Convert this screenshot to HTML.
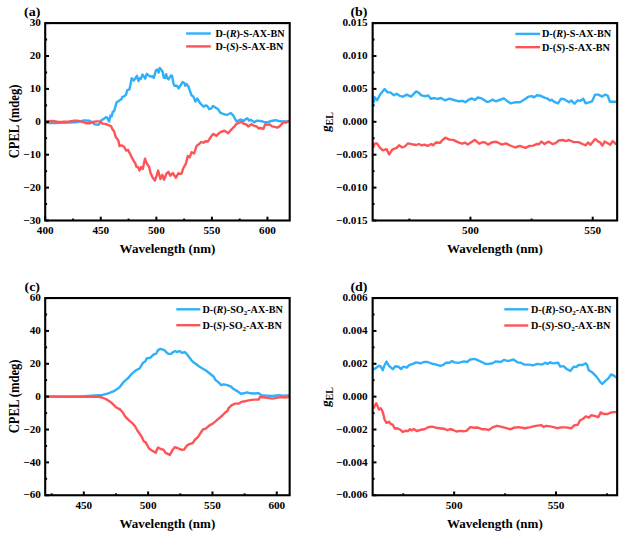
<!DOCTYPE html>
<html><head><meta charset="utf-8"><style>
html,body{margin:0;padding:0;background:#fff;}
body{width:632px;height:542px;overflow:hidden;}
svg{display:block;}
text{font-family:"Liberation Serif",serif;font-weight:bold;fill:#000;}
.tk{font-size:11.2px;}
.ti{font-size:13px;}
.lg{font-size:10.2px;}
.pl{font-size:14px;}
</style></head><body>
<svg width="632" height="542" viewBox="0 0 632 542">
<rect width="632" height="542" fill="#fff"/>
<polyline points="46.0,122.8 50.3,123.1 56.7,123.1 62.0,122.8 68.0,122.5 75.6,122.4 80.0,121.3 83.8,120.4 89.5,120.8 92.7,122.7 94.6,124.2 98.4,124.9 100.3,122.7 101.5,120.1 103.2,119.2 106.1,117.2 107.0,117.4 109.2,121.6 110.5,115.4 111.8,116.3 112.7,111.9 114.0,111.4 116.7,102.1 118.5,101.2 120.2,99.9 121.5,99.0 122.4,96.8 124.2,96.4 126.0,94.6 127.3,90.2 129.5,89.3 131.7,78.2 133.7,80.6 134.9,79.0 136.9,75.8 138.4,81.0 139.6,78.2 140.8,79.0 142.4,74.6 144.0,76.6 145.2,78.6 146.8,73.8 148.7,75.4 150.3,76.6 152.3,76.2 153.9,77.8 155.9,70.3 157.4,69.5 158.6,72.7 159.8,67.9 161.4,69.9 162.6,71.9 163.8,77.8 165.0,77.8 166.1,74.2 167.3,78.2 168.5,79.4 170.9,75.4 172.1,75.8 173.3,82.9 174.4,85.8 177.0,85.8 178.6,88.4 182.7,82.0 184.6,83.3 185.2,85.8 186.5,83.9 188.4,86.5 191.5,95.3 193.4,96.6 195.3,101.6 197.2,98.5 200.4,103.5 203.5,106.7 205.4,105.4 207.3,106.0 209.2,109.2 211.1,108.6 213.0,106.0 216.2,108.0 218.1,109.2 220.0,112.4 222.5,113.7 226.3,114.9 228.2,114.3 230.8,113.0 233.3,115.6 236.5,121.3 238.4,120.6 240.0,119.8 241.6,119.8 243.7,121.0 245.3,119.4 247.4,118.2 249.1,120.6 250.7,119.8 252.3,121.0 254.4,122.3 256.5,120.6 260.6,121.0 263.9,121.9 267.2,122.3 271.3,121.0 275.4,120.2 278.7,121.0 282.8,121.5 288.5,121.5" fill="none" stroke="#30b0fa" stroke-width="2.4" stroke-linejoin="round" stroke-linecap="round"/>
<polyline points="46.0,121.6 49.1,121.3 53.5,121.0 57.9,121.9 63.0,121.8 69.3,121.5 74.4,120.8 78.2,120.8 81.0,121.6 83.2,122.0 86.3,123.3 90.1,123.3 92.7,122.0 96.5,121.4 99.6,121.4 100.9,122.7 102.8,123.6 105.3,123.9 108.5,125.2 111.0,126.1 112.3,129.0 114.2,131.5 115.7,137.0 118.3,140.2 119.5,146.0 121.5,145.4 124.1,146.7 126.0,150.5 128.0,149.9 130.0,153.6 132.0,157.9 133.6,160.7 135.5,163.8 136.3,166.6 137.9,167.0 139.5,170.6 141.1,167.0 142.7,169.0 143.8,164.2 145.0,158.7 146.2,161.9 147.4,164.6 149.0,166.6 150.6,172.9 152.5,177.3 154.9,180.5 156.5,176.1 158.1,170.6 160.5,178.9 162.4,174.9 164.0,179.7 166.4,173.7 168.4,171.8 170.3,175.7 172.7,173.0 175.9,177.7 178.3,173.3 178.9,173.7 181.5,173.7 183.4,168.0 185.9,163.6 187.8,156.0 189.7,157.3 191.6,152.2 194.1,153.5 196.6,145.9 199.2,144.0 201.1,142.1 203.6,142.7 205.5,141.2 208.0,141.5 209.9,138.3 213.1,133.9 216.3,135.8 218.2,133.9 220.7,132.0 224.5,130.7 228.3,133.2 230.8,130.1 234.0,126.9 236.5,123.8 240.0,122.3 241.6,121.9 243.3,123.5 246.2,124.3 248.2,126.4 251.5,124.3 254.4,126.0 256.5,126.4 258.9,128.5 260.6,128.0 263.5,128.9 265.1,124.3 268.0,124.8 269.6,124.3 272.1,126.4 274.6,126.8 277.4,127.6 279.5,126.4 282.0,123.9 284.0,121.9 285.7,122.7 288.5,121.0" fill="none" stroke="#ff5457" stroke-width="2.4" stroke-linejoin="round" stroke-linecap="round"/>
<polyline points="373.8,102.2 374.4,97.1 377.0,100.3 380.1,94.6 384.6,89.1 387.7,92.4 390.3,92.4 394.0,95.2 396.6,93.7 399.7,95.8 402.9,96.7 406.7,94.6 411.1,96.7 416.2,91.4 418.7,92.7 421.3,95.4 425.7,96.2 428.2,95.4 430.8,98.7 434.6,98.0 437.1,99.0 440.9,98.0 445.0,100.3 449.4,98.7 453.9,100.0 458.9,101.3 462.7,100.9 465.3,102.2 469.0,99.6 471.6,98.4 474.7,100.0 477.9,97.5 481.7,98.4 486.8,101.8 489.3,101.5 492.5,99.6 495.6,101.3 499.4,100.0 503.9,98.4 507.0,100.9 510.8,103.4 515.9,102.2 520.0,102.2 524.0,99.8 528.7,96.6 531.9,96.1 534.2,97.4 536.6,95.3 540.6,95.8 544.5,97.7 547.7,98.7 550.1,100.6 551.6,99.8 554.8,102.2 558.0,103.4 561.1,98.7 564.3,99.3 569.0,102.2 571.4,100.6 574.6,103.7 577.8,100.3 580.1,100.9 583.3,98.7 585.7,103.4 589.6,102.2 592.0,101.4 595.2,94.6 598.3,94.6 602.3,96.6 605.4,94.6 607.8,95.8 609.9,101.8 616.0,101.8" fill="none" stroke="#30b0fa" stroke-width="2.4" stroke-linejoin="round" stroke-linecap="round"/>
<polyline points="373.8,146.5 374.4,143.7 377.0,143.4 379.5,147.2 382.7,150.3 386.5,149.1 389.2,154.4 392.2,149.7 396.6,147.8 399.1,145.3 402.3,147.5 404.8,146.5 408.0,143.4 411.8,144.2 416.2,145.0 418.7,144.0 421.9,145.3 424.4,144.6 427.6,145.9 431.4,144.0 433.3,145.3 435.8,142.5 440.3,142.7 442.2,140.2 445.3,137.7 449.4,139.6 453.2,139.9 457.7,142.1 462.1,143.7 465.3,142.7 467.8,144.6 471.6,142.1 474.7,139.9 479.2,143.7 483.0,142.1 485.5,142.7 488.0,144.6 492.5,142.1 496.3,141.7 502.0,144.6 505.8,143.4 510.2,145.5 515.3,147.5 519.7,145.9 525.5,147.9 529.5,145.9 533.4,145.6 536.6,144.0 539.0,144.3 541.4,141.6 544.5,144.0 548.5,141.6 552.4,144.0 555.6,143.2 558.8,140.5 562.7,140.0 565.9,141.1 569.0,140.0 573.8,142.1 578.5,142.1 582.5,144.0 585.7,145.3 588.0,142.4 590.4,144.8 595.2,138.9 598.3,141.6 599.9,142.1 602.3,145.6 604.7,141.6 607.8,143.2 610.2,144.8 612.6,141.1 616.0,144.0" fill="none" stroke="#ff5457" stroke-width="2.4" stroke-linejoin="round" stroke-linecap="round"/>
<polyline points="45.5,396.6 70.3,396.6 84.0,396.1 92.0,395.6 98.2,395.2 102.6,394.9 108.3,393.3 113.4,391.4 118.4,388.2 120.0,386.8 123.8,381.8 127.6,378.6 131.4,374.2 135.8,370.4 139.6,368.5 142.2,364.0 143.4,362.5 145.3,361.5 146.6,358.4 150.4,357.7 153.5,354.6 156.1,353.7 158.0,350.1 160.5,348.9 164.3,350.1 166.8,352.7 168.7,353.9 171.3,353.7 173.2,352.0 175.1,351.1 177.0,352.0 179.5,351.1 182.0,352.7 185.2,352.3 187.1,354.6 189.0,357.1 191.5,360.3 194.1,362.8 195.0,363.3 198.8,366.3 202.5,368.5 206.3,370.8 210.0,373.8 213.8,376.8 215.3,379.8 218.3,382.1 221.3,385.1 223.6,384.3 227.3,385.1 231.1,386.6 233.3,388.8 237.1,391.1 240.9,393.8 243.9,393.3 246.9,392.3 250.6,393.3 254.0,393.5 258.6,393.1 261.3,395.3 266.6,395.6 272.6,396.0 278.6,395.3 283.2,395.6 288.5,395.5" fill="none" stroke="#30b0fa" stroke-width="2.4" stroke-linejoin="round" stroke-linecap="round"/>
<polyline points="45.5,396.5 70.3,396.7 98.2,396.7 102.0,397.5 105.8,399.0 110.8,402.2 115.9,407.2 120.0,409.4 122.5,412.0 125.1,416.4 128.9,420.4 132.7,423.4 135.2,426.5 137.7,431.0 140.0,434.3 141.9,437.1 143.8,441.4 145.7,442.3 149.0,448.5 151.9,450.4 155.7,452.8 158.0,447.6 160.9,449.0 163.7,449.9 165.6,452.8 169.9,454.9 172.3,450.4 174.7,447.1 177.5,448.0 181.8,449.9 184.2,449.5 186.5,446.1 189.4,444.1 192.7,443.1 195.1,439.5 197.9,437.1 200.0,433.8 202.7,429.7 205.7,428.6 209.2,425.6 213.4,423.2 217.5,419.7 222.3,415.5 225.2,412.5 227.6,410.8 228.8,407.8 231.8,405.2 235.3,403.6 238.9,403.6 241.3,401.9 244.8,401.3 249.6,400.1 254.0,399.6 258.6,399.6 260.0,397.0 263.3,397.3 272.6,398.6 277.9,397.6 281.9,397.0 284.6,397.6 288.5,397.0" fill="none" stroke="#ff5457" stroke-width="2.4" stroke-linejoin="round" stroke-linecap="round"/>
<polyline points="373.8,369.2 376.3,367.7 378.9,365.8 380.8,366.5 382.7,370.3 384.6,365.2 386.5,361.6 389.0,365.8 392.8,369.2 395.3,366.2 398.5,366.7 401.0,369.0 403.5,366.7 406.7,367.5 409.2,365.2 413.0,363.9 416.2,362.4 420.6,363.3 423.8,362.0 427.6,362.0 432.0,363.7 436.5,364.6 440.3,365.8 443.4,364.9 445.9,362.7 449.4,362.7 452.0,361.1 454.5,362.4 458.3,362.9 464.0,361.4 467.2,362.0 470.3,359.5 474.7,358.9 479.2,360.8 481.7,362.0 485.5,363.9 488.7,363.9 492.5,363.3 495.6,361.4 500.7,362.0 503.9,359.9 508.3,361.1 513.4,359.5 517.8,362.4 520.9,362.7 524.0,364.6 529.5,364.6 532.7,365.3 537.4,363.9 542.2,364.6 545.3,362.7 547.7,363.9 550.1,362.3 553.2,363.4 558.0,362.7 560.3,366.6 563.5,366.1 566.7,369.0 570.3,370.9 573.8,366.6 576.2,367.1 578.5,365.0 582.5,365.0 585.7,363.4 587.2,365.0 588.8,370.3 592.0,372.2 596.7,376.9 599.9,381.6 602.3,384.0 605.4,380.9 608.6,378.2 611.0,374.5 613.4,375.3 616.0,377.2" fill="none" stroke="#30b0fa" stroke-width="2.4" stroke-linejoin="round" stroke-linecap="round"/>
<polyline points="373.8,407.7 375.1,405.1 376.3,403.2 377.6,406.4 378.9,409.6 380.8,408.3 382.0,410.2 383.3,414.0 384.6,419.7 386.5,422.8 389.0,421.8 390.9,424.1 392.8,424.7 394.7,428.5 397.2,428.2 400.4,429.8 402.9,432.0 405.4,430.7 408.0,431.1 409.9,429.2 411.8,430.4 413.7,428.9 416.8,431.1 420.6,429.8 424.4,429.2 428.2,427.3 432.0,426.6 435.8,427.7 439.6,428.2 445.0,429.0 447.5,430.3 450.1,429.0 453.2,430.0 456.4,431.5 460.2,430.9 463.4,431.3 466.5,430.9 470.3,427.1 474.1,427.7 477.9,427.5 481.7,429.2 485.5,429.2 488.7,430.0 493.1,427.1 496.9,425.8 500.7,426.7 504.5,427.7 508.3,428.7 510.8,429.2 514.0,427.7 518.4,427.1 524.7,428.2 529.5,427.4 535.8,425.9 541.4,425.1 543.7,427.0 546.1,425.9 551.6,426.6 557.2,428.2 561.1,427.4 565.9,427.4 571.4,428.2 574.6,425.1 577.8,424.7 580.1,420.3 583.3,418.7 585.7,416.4 588.8,417.5 591.2,415.3 594.4,415.9 598.3,417.2 600.7,412.4 603.9,414.0 607.8,414.0 610.2,412.7 613.4,412.1 616.0,412.1" fill="none" stroke="#ff5457" stroke-width="2.4" stroke-linejoin="round" stroke-linecap="round"/>
<line x1="45.20" y1="220.50" x2="45.20" y2="216.70" stroke="#000" stroke-width="2.0"/>
<text x="45.20" y="233.90" text-anchor="middle" class="tk">400</text>
<line x1="100.77" y1="220.50" x2="100.77" y2="216.70" stroke="#000" stroke-width="2.0"/>
<text x="100.77" y="233.90" text-anchor="middle" class="tk">450</text>
<line x1="156.34" y1="220.50" x2="156.34" y2="216.70" stroke="#000" stroke-width="2.0"/>
<text x="156.34" y="233.90" text-anchor="middle" class="tk">500</text>
<line x1="211.90" y1="220.50" x2="211.90" y2="216.70" stroke="#000" stroke-width="2.0"/>
<text x="211.90" y="233.90" text-anchor="middle" class="tk">550</text>
<line x1="267.47" y1="220.50" x2="267.47" y2="216.70" stroke="#000" stroke-width="2.0"/>
<text x="267.47" y="233.90" text-anchor="middle" class="tk">600</text>
<line x1="72.98" y1="220.50" x2="72.98" y2="218.60" stroke="#000" stroke-width="2.0"/>
<line x1="128.55" y1="220.50" x2="128.55" y2="218.60" stroke="#000" stroke-width="2.0"/>
<line x1="184.12" y1="220.50" x2="184.12" y2="218.60" stroke="#000" stroke-width="2.0"/>
<line x1="239.69" y1="220.50" x2="239.69" y2="218.60" stroke="#000" stroke-width="2.0"/>
<line x1="45.20" y1="220.50" x2="49.00" y2="220.50" stroke="#000" stroke-width="2.0"/>
<text x="40.90" y="223.70" text-anchor="end" class="tk">−30</text>
<line x1="45.20" y1="187.60" x2="49.00" y2="187.60" stroke="#000" stroke-width="2.0"/>
<text x="40.90" y="190.80" text-anchor="end" class="tk">−20</text>
<line x1="45.20" y1="154.70" x2="49.00" y2="154.70" stroke="#000" stroke-width="2.0"/>
<text x="40.90" y="157.90" text-anchor="end" class="tk">−10</text>
<line x1="45.20" y1="121.80" x2="49.00" y2="121.80" stroke="#000" stroke-width="2.0"/>
<text x="40.90" y="125.00" text-anchor="end" class="tk">0</text>
<line x1="45.20" y1="88.90" x2="49.00" y2="88.90" stroke="#000" stroke-width="2.0"/>
<text x="40.90" y="92.10" text-anchor="end" class="tk">10</text>
<line x1="45.20" y1="56.00" x2="49.00" y2="56.00" stroke="#000" stroke-width="2.0"/>
<text x="40.90" y="59.20" text-anchor="end" class="tk">20</text>
<line x1="45.20" y1="23.10" x2="49.00" y2="23.10" stroke="#000" stroke-width="2.0"/>
<text x="40.90" y="26.30" text-anchor="end" class="tk">30</text>
<line x1="45.20" y1="204.05" x2="47.10" y2="204.05" stroke="#000" stroke-width="2.0"/>
<line x1="45.20" y1="171.15" x2="47.10" y2="171.15" stroke="#000" stroke-width="2.0"/>
<line x1="45.20" y1="138.25" x2="47.10" y2="138.25" stroke="#000" stroke-width="2.0"/>
<line x1="45.20" y1="105.35" x2="47.10" y2="105.35" stroke="#000" stroke-width="2.0"/>
<line x1="45.20" y1="72.45" x2="47.10" y2="72.45" stroke="#000" stroke-width="2.0"/>
<line x1="45.20" y1="39.55" x2="47.10" y2="39.55" stroke="#000" stroke-width="2.0"/>
<line x1="470.45" y1="220.50" x2="470.45" y2="216.70" stroke="#000" stroke-width="2.0"/>
<text x="470.45" y="233.90" text-anchor="middle" class="tk">500</text>
<line x1="592.70" y1="220.50" x2="592.70" y2="216.70" stroke="#000" stroke-width="2.0"/>
<text x="592.70" y="233.90" text-anchor="middle" class="tk">550</text>
<line x1="409.32" y1="220.50" x2="409.32" y2="218.60" stroke="#000" stroke-width="2.0"/>
<line x1="531.58" y1="220.50" x2="531.58" y2="218.60" stroke="#000" stroke-width="2.0"/>
<line x1="372.65" y1="220.50" x2="376.45" y2="220.50" stroke="#000" stroke-width="2.0"/>
<text x="367.60" y="223.70" text-anchor="end" class="tk">−0.015</text>
<line x1="372.65" y1="187.60" x2="376.45" y2="187.60" stroke="#000" stroke-width="2.0"/>
<text x="367.60" y="190.80" text-anchor="end" class="tk">−0.010</text>
<line x1="372.65" y1="154.70" x2="376.45" y2="154.70" stroke="#000" stroke-width="2.0"/>
<text x="367.60" y="157.90" text-anchor="end" class="tk">−0.005</text>
<line x1="372.65" y1="121.80" x2="376.45" y2="121.80" stroke="#000" stroke-width="2.0"/>
<text x="367.60" y="125.00" text-anchor="end" class="tk">0.000</text>
<line x1="372.65" y1="88.90" x2="376.45" y2="88.90" stroke="#000" stroke-width="2.0"/>
<text x="367.60" y="92.10" text-anchor="end" class="tk">0.005</text>
<line x1="372.65" y1="56.00" x2="376.45" y2="56.00" stroke="#000" stroke-width="2.0"/>
<text x="367.60" y="59.20" text-anchor="end" class="tk">0.010</text>
<line x1="372.65" y1="23.10" x2="376.45" y2="23.10" stroke="#000" stroke-width="2.0"/>
<text x="367.60" y="26.30" text-anchor="end" class="tk">0.015</text>
<line x1="372.65" y1="204.05" x2="374.55" y2="204.05" stroke="#000" stroke-width="2.0"/>
<line x1="372.65" y1="171.15" x2="374.55" y2="171.15" stroke="#000" stroke-width="2.0"/>
<line x1="372.65" y1="138.25" x2="374.55" y2="138.25" stroke="#000" stroke-width="2.0"/>
<line x1="372.65" y1="105.35" x2="374.55" y2="105.35" stroke="#000" stroke-width="2.0"/>
<line x1="372.65" y1="72.45" x2="374.55" y2="72.45" stroke="#000" stroke-width="2.0"/>
<line x1="372.65" y1="39.55" x2="374.55" y2="39.55" stroke="#000" stroke-width="2.0"/>
<line x1="83.80" y1="495.25" x2="83.80" y2="491.45" stroke="#000" stroke-width="2.0"/>
<text x="83.80" y="508.90" text-anchor="middle" class="tk">450</text>
<line x1="148.13" y1="495.25" x2="148.13" y2="491.45" stroke="#000" stroke-width="2.0"/>
<text x="148.13" y="508.90" text-anchor="middle" class="tk">500</text>
<line x1="212.46" y1="495.25" x2="212.46" y2="491.45" stroke="#000" stroke-width="2.0"/>
<text x="212.46" y="508.90" text-anchor="middle" class="tk">550</text>
<line x1="276.78" y1="495.25" x2="276.78" y2="491.45" stroke="#000" stroke-width="2.0"/>
<text x="276.78" y="508.90" text-anchor="middle" class="tk">600</text>
<line x1="51.63" y1="495.25" x2="51.63" y2="493.35" stroke="#000" stroke-width="2.0"/>
<line x1="115.96" y1="495.25" x2="115.96" y2="493.35" stroke="#000" stroke-width="2.0"/>
<line x1="180.29" y1="495.25" x2="180.29" y2="493.35" stroke="#000" stroke-width="2.0"/>
<line x1="244.62" y1="495.25" x2="244.62" y2="493.35" stroke="#000" stroke-width="2.0"/>
<line x1="45.20" y1="495.25" x2="49.00" y2="495.25" stroke="#000" stroke-width="2.0"/>
<text x="40.90" y="498.45" text-anchor="end" class="tk">−60</text>
<line x1="45.20" y1="462.38" x2="49.00" y2="462.38" stroke="#000" stroke-width="2.0"/>
<text x="40.90" y="465.58" text-anchor="end" class="tk">−40</text>
<line x1="45.20" y1="429.52" x2="49.00" y2="429.52" stroke="#000" stroke-width="2.0"/>
<text x="40.90" y="432.72" text-anchor="end" class="tk">−20</text>
<line x1="45.20" y1="396.65" x2="49.00" y2="396.65" stroke="#000" stroke-width="2.0"/>
<text x="40.90" y="399.85" text-anchor="end" class="tk">0</text>
<line x1="45.20" y1="363.78" x2="49.00" y2="363.78" stroke="#000" stroke-width="2.0"/>
<text x="40.90" y="366.98" text-anchor="end" class="tk">20</text>
<line x1="45.20" y1="330.92" x2="49.00" y2="330.92" stroke="#000" stroke-width="2.0"/>
<text x="40.90" y="334.12" text-anchor="end" class="tk">40</text>
<line x1="45.20" y1="298.05" x2="49.00" y2="298.05" stroke="#000" stroke-width="2.0"/>
<text x="40.90" y="301.25" text-anchor="end" class="tk">60</text>
<line x1="45.20" y1="478.82" x2="47.10" y2="478.82" stroke="#000" stroke-width="2.0"/>
<line x1="45.20" y1="445.95" x2="47.10" y2="445.95" stroke="#000" stroke-width="2.0"/>
<line x1="45.20" y1="413.08" x2="47.10" y2="413.08" stroke="#000" stroke-width="2.0"/>
<line x1="45.20" y1="380.22" x2="47.10" y2="380.22" stroke="#000" stroke-width="2.0"/>
<line x1="45.20" y1="347.35" x2="47.10" y2="347.35" stroke="#000" stroke-width="2.0"/>
<line x1="45.20" y1="314.48" x2="47.10" y2="314.48" stroke="#000" stroke-width="2.0"/>
<line x1="454.15" y1="495.25" x2="454.15" y2="491.45" stroke="#000" stroke-width="2.0"/>
<text x="454.15" y="508.90" text-anchor="middle" class="tk">500</text>
<line x1="556.02" y1="495.25" x2="556.02" y2="491.45" stroke="#000" stroke-width="2.0"/>
<text x="556.02" y="508.90" text-anchor="middle" class="tk">550</text>
<line x1="403.21" y1="495.25" x2="403.21" y2="493.35" stroke="#000" stroke-width="2.0"/>
<line x1="505.09" y1="495.25" x2="505.09" y2="493.35" stroke="#000" stroke-width="2.0"/>
<line x1="606.96" y1="495.25" x2="606.96" y2="493.35" stroke="#000" stroke-width="2.0"/>
<line x1="372.65" y1="495.25" x2="376.45" y2="495.25" stroke="#000" stroke-width="2.0"/>
<text x="367.60" y="498.45" text-anchor="end" class="tk">−0.006</text>
<line x1="372.65" y1="462.38" x2="376.45" y2="462.38" stroke="#000" stroke-width="2.0"/>
<text x="367.60" y="465.58" text-anchor="end" class="tk">−0.004</text>
<line x1="372.65" y1="429.52" x2="376.45" y2="429.52" stroke="#000" stroke-width="2.0"/>
<text x="367.60" y="432.72" text-anchor="end" class="tk">−0.002</text>
<line x1="372.65" y1="396.65" x2="376.45" y2="396.65" stroke="#000" stroke-width="2.0"/>
<text x="367.60" y="399.85" text-anchor="end" class="tk">0.000</text>
<line x1="372.65" y1="363.78" x2="376.45" y2="363.78" stroke="#000" stroke-width="2.0"/>
<text x="367.60" y="366.98" text-anchor="end" class="tk">0.002</text>
<line x1="372.65" y1="330.92" x2="376.45" y2="330.92" stroke="#000" stroke-width="2.0"/>
<text x="367.60" y="334.12" text-anchor="end" class="tk">0.004</text>
<line x1="372.65" y1="298.05" x2="376.45" y2="298.05" stroke="#000" stroke-width="2.0"/>
<text x="367.60" y="301.25" text-anchor="end" class="tk">0.006</text>
<line x1="372.65" y1="478.82" x2="374.55" y2="478.82" stroke="#000" stroke-width="2.0"/>
<line x1="372.65" y1="445.95" x2="374.55" y2="445.95" stroke="#000" stroke-width="2.0"/>
<line x1="372.65" y1="413.08" x2="374.55" y2="413.08" stroke="#000" stroke-width="2.0"/>
<line x1="372.65" y1="380.22" x2="374.55" y2="380.22" stroke="#000" stroke-width="2.0"/>
<line x1="372.65" y1="347.35" x2="374.55" y2="347.35" stroke="#000" stroke-width="2.0"/>
<line x1="372.65" y1="314.48" x2="374.55" y2="314.48" stroke="#000" stroke-width="2.0"/>
<rect x="45.20" y="23.10" width="244.50" height="197.40" fill="none" stroke="#000" stroke-width="2.1"/>
<rect x="372.65" y="23.10" width="244.50" height="197.40" fill="none" stroke="#000" stroke-width="2.1"/>
<rect x="45.20" y="298.05" width="244.45" height="197.20" fill="none" stroke="#000" stroke-width="2.1"/>
<rect x="372.65" y="298.05" width="244.50" height="197.20" fill="none" stroke="#000" stroke-width="2.1"/>
<text transform="translate(24,16.4) scale(1,0.9)" class="pl">(a)</text>
<text transform="translate(350.4,16.4) scale(1,0.9)" class="pl">(b)</text>
<text transform="translate(24.5,291.4) scale(1,0.9)" class="pl">(c)</text>
<text transform="translate(350.4,291.4) scale(1,0.9)" class="pl">(d)</text>
<text x="167.45" y="252.50" text-anchor="middle" class="ti">Wavelength (nm)</text>
<text x="494.90" y="252.50" text-anchor="middle" class="ti">Wavelength (nm)</text>
<text x="167.42" y="528.20" text-anchor="middle" class="ti">Wavelength (nm)</text>
<text x="494.90" y="528.20" text-anchor="middle" class="ti">Wavelength (nm)</text>
<text transform="translate(18.6,121.50) rotate(-90) scale(0.9,1)" text-anchor="middle" class="ti" style="font-size:14px">CPEL (mdeg)</text>
<text transform="translate(18.6,396.35) rotate(-90) scale(0.9,1)" text-anchor="middle" class="ti" style="font-size:14px">CPEL (mdeg)</text>
<g transform="translate(329.5,132.30) rotate(-90)"><text x="0" y="0" transform="skewX(-6)" style="font-size:13px">g</text><text x="6.9" y="3.4" style="font-size:10px">EL</text></g>
<g transform="translate(329.5,407.30) rotate(-90)"><text x="0" y="0" transform="skewX(-6)" style="font-size:13px">g</text><text x="6.9" y="3.4" style="font-size:10px">EL</text></g>
<line x1="186.1" y1="33.5" x2="210.8" y2="33.5" stroke="#30b0fa" stroke-width="2.4"/>
<line x1="186.1" y1="46.4" x2="210.8" y2="46.4" stroke="#ff5457" stroke-width="2.4"/>
<text x="215.5" y="36.9" class="lg">D-(<tspan font-style="italic">R</tspan>)-S-AX-BN</text>
<text x="215.5" y="49.8" class="lg">D-(<tspan font-style="italic">S</tspan>)-S-AX-BN</text>
<line x1="515.4" y1="33.9" x2="540.1" y2="33.9" stroke="#30b0fa" stroke-width="2.4"/>
<line x1="515.4" y1="47.2" x2="540.1" y2="47.2" stroke="#ff5457" stroke-width="2.4"/>
<text x="542" y="37.3" class="lg">D-(<tspan font-style="italic">R</tspan>)-S-AX-BN</text>
<text x="542" y="50.6" class="lg">D-(<tspan font-style="italic">S</tspan>)-S-AX-BN</text>
<line x1="176.3" y1="309.3" x2="200.4" y2="309.3" stroke="#30b0fa" stroke-width="2.4"/>
<line x1="176.3" y1="325.2" x2="200.4" y2="325.2" stroke="#ff5457" stroke-width="2.4"/>
<text x="202.4" y="312.7" class="lg">D-(<tspan font-style="italic">R</tspan>)-SO<tspan font-size="7" dy="2">2</tspan><tspan dy="-2">-AX-BN</tspan></text>
<text x="202.4" y="328.59999999999997" class="lg">D-(<tspan font-style="italic">S</tspan>)-SO<tspan font-size="7" dy="2">2</tspan><tspan dy="-2">-AX-BN</tspan></text>
<line x1="504.3" y1="309.3" x2="528.3" y2="309.3" stroke="#30b0fa" stroke-width="2.4"/>
<line x1="504.3" y1="325.5" x2="528.3" y2="325.5" stroke="#ff5457" stroke-width="2.4"/>
<text x="531" y="312.7" class="lg">D-(<tspan font-style="italic">R</tspan>)-SO<tspan font-size="7" dy="2">2</tspan><tspan dy="-2">-AX-BN</tspan></text>
<text x="531" y="328.9" class="lg">D-(<tspan font-style="italic">S</tspan>)-SO<tspan font-size="7" dy="2">2</tspan><tspan dy="-2">-AX-BN</tspan></text>
</svg>
</body></html>
